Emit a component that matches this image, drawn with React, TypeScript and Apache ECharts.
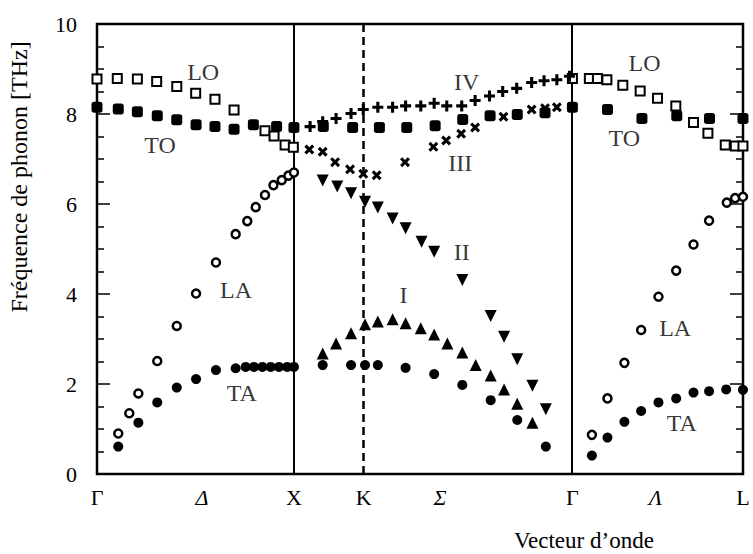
import React, { useEffect, useRef } from "react";
import * as echarts from "echarts";

// Wave-vector positions of high-symmetry points (Γ X K Γ L) and axis labels
const tickPositions = [0, 0.533, 1, 1.3536, 1.742, 2.4142, 2.835, 3.2802];
const tickLabels = ["Γ", "Δ", "X", "K", "Σ", "Γ", "Λ", "L"];
const italicLabels = ["Δ", "Σ", "Λ"];
const solidLines = [1, 2.4142];
const dashedLines = [1.3536];
const xMax = 3.2802;
const yTicks = ["0", "2", "4", "6", "8", "10"];

// Branch data: [wave vector, frequency THz]
const LO: number[][] = [
  [0.0, 8.78], [0.103, 8.79], [0.205, 8.78], [0.303, 8.72], [0.405, 8.61], [0.501, 8.46],
  [0.599, 8.33], [0.696, 8.09], [0.853, 7.63], [0.899, 7.51], [0.955, 7.31], [0.997, 7.26],
  [2.414, 8.79], [2.5, 8.79], [2.541, 8.79], [2.589, 8.76], [2.67, 8.64], [2.758, 8.51],
  [2.846, 8.35], [2.939, 8.18], [3.029, 7.81], [3.102, 7.57], [3.19, 7.31], [3.241, 7.29], [3.28, 7.29],
];
const TO: number[][] = [
  [0.0, 8.15], [0.108, 8.11], [0.205, 8.05], [0.306, 7.96], [0.405, 7.87], [0.503, 7.76],
  [0.599, 7.72], [0.696, 7.66], [0.794, 7.76], [0.912, 7.72], [1.0, 7.7], [1.149, 7.72],
  [1.298, 7.7], [1.434, 7.7], [1.573, 7.7], [1.717, 7.74], [1.857, 7.88], [1.996, 7.96],
  [2.134, 7.99], [2.275, 8.03], [2.414, 8.15], [2.592, 8.1], [2.767, 7.9], [2.944, 7.96],
  [3.11, 7.9], [3.28, 7.9],
];
const LA: number[][] = [
  [0.108, 0.9], [0.164, 1.35], [0.21, 1.79], [0.306, 2.51], [0.405, 3.29], [0.503, 4.01],
  [0.604, 4.7], [0.704, 5.33], [0.763, 5.62], [0.806, 5.93], [0.853, 6.2], [0.896, 6.42],
  [0.938, 6.53], [0.972, 6.63], [1.0, 6.7],
  [2.513, 0.87], [2.592, 1.68], [2.678, 2.47], [2.763, 3.2], [2.851, 3.94], [2.941, 4.52],
  [3.029, 5.1], [3.108, 5.63], [3.198, 6.03], [3.24, 6.13], [3.28, 6.16],
];
const TA: number[][] = [
  [0.108, 0.61], [0.21, 1.14], [0.306, 1.59], [0.405, 1.92], [0.503, 2.11], [0.604, 2.31],
  [0.704, 2.35], [0.755, 2.38], [0.797, 2.38], [0.84, 2.38], [0.882, 2.38], [0.924, 2.38],
  [0.966, 2.38], [1.0, 2.38], [1.146, 2.42], [1.29, 2.42], [1.361, 2.42], [1.426, 2.42],
  [1.567, 2.36], [1.712, 2.22], [1.855, 1.98], [1.999, 1.64], [2.134, 1.2], [2.279, 0.61],
  [2.513, 0.41], [2.592, 0.81], [2.678, 1.16], [2.763, 1.4], [2.851, 1.59], [2.941, 1.68],
  [3.029, 1.81], [3.108, 1.84], [3.195, 1.88], [3.28, 1.87],
];
const branchI: number[][] = [
  [1.146, 2.68], [1.214, 2.9], [1.29, 3.13], [1.361, 3.33], [1.426, 3.39], [1.501, 3.44],
  [1.567, 3.35], [1.644, 3.24], [1.712, 3.1], [1.779, 2.9], [1.855, 2.7], [1.923, 2.42],
  [1.999, 2.19], [2.067, 1.88], [2.134, 1.56], [2.211, 1.14],
];
const branchII: number[][] = [
  [1.146, 6.52], [1.22, 6.39], [1.29, 6.24], [1.361, 6.05], [1.426, 5.92], [1.501, 5.68],
  [1.567, 5.46], [1.648, 5.16], [1.712, 4.94], [1.855, 4.31], [1.999, 3.51], [2.067, 3.05],
  [2.134, 2.55], [2.211, 1.96], [2.279, 1.44],
];
const branchIII: number[][] = [
  [1.078, 7.21], [1.146, 7.16], [1.209, 6.93], [1.285, 6.77], [1.352, 6.67], [1.42, 6.64],
  [1.564, 6.93], [1.708, 7.27], [1.773, 7.41], [1.849, 7.56], [1.92, 7.7], [2.064, 7.94],
  [2.207, 8.1], [2.275, 8.13], [2.335, 8.15],
];
const branchIV: number[][] = [
  [1.082, 7.72], [1.146, 7.83], [1.214, 7.9], [1.29, 8.01], [1.352, 8.1], [1.426, 8.15],
  [1.501, 8.15], [1.567, 8.18], [1.644, 8.18], [1.712, 8.24], [1.776, 8.18], [1.852, 8.18],
  [1.92, 8.3], [1.993, 8.4], [2.06, 8.5], [2.131, 8.57], [2.207, 8.7], [2.27, 8.74],
  [2.335, 8.76], [2.399, 8.84],
];

// Branch annotations
const annotationNames = ["LO", "TO", "LA", "TA", "IV", "III", "II", "I", "LO", "TO", "LA", "TA"];
const annotationPos: number[][] = [
  [0.539, 8.94], [0.32, 7.31], [0.706, 4.1], [0.735, 1.79], [1.877, 8.72], [1.844, 6.92],
  [1.852, 4.94], [1.556, 3.98], [2.78, 9.13], [2.678, 7.46], [2.936, 3.24], [2.969, 1.13],
];

const FONT = "'Liberation Serif', 'DejaVu Serif', serif";
const PLUS = "path://M3.6,0H6.4V3.6H10V6.4H6.4V10H3.6V6.4H0V3.6H3.6Z";

export default function App() {
  const ref = useRef<HTMLDivElement>(null);
  useEffect(() => {
    document.body.style.margin = "0";
    if (!ref.current) return;
    const chart = echarts.init(ref.current, null, { renderer: "svg" });
    const yAxisCommon = {
      type: "value",
      min: 0,
      max: 10,
      interval: 2,
      splitLine: { show: false },
      axisLine: { show: false },
      axisTick: { show: true, inside: true, length: 13, lineStyle: { color: "#000", width: 1.5 } },
      minorTick: { show: true, splitNumber: 4, length: 7, lineStyle: { color: "#000", width: 1.5 } },
    };
    const base = { type: "scatter", xAxisIndex: 0, yAxisIndex: 0, z: 5 };
    const fill = { color: "#000", opacity: 1 };
    const hollow = (w: number) => ({ color: "#fff", borderColor: "#000", borderWidth: w, opacity: 1 });
    chart.setOption({
      animation: false,
      backgroundColor: "#fff",
      grid: { left: 97, right: 10, top: 24, bottom: 80, show: true, borderColor: "#000", borderWidth: 2.5, backgroundColor: "transparent" },
      xAxis: {
        type: "value",
        min: 0,
        max: xMax,
        splitLine: { show: false },
        axisLine: { show: false },
        axisTick: { show: false },
        axisLabel: {
          customValues: tickPositions,
          margin: 12,
          color: "#000",
          fontFamily: FONT,
          fontSize: 22,
          formatter: (v: number) => {
            let idx = 0;
            let best = Infinity;
            tickPositions.forEach((p, i) => {
              if (Math.abs(p - v) < best) { best = Math.abs(p - v); idx = i; }
            });
            const t = tickLabels[idx];
            return italicLabels.includes(t) ? `{it|${t}}` : t;
          },
          rich: { it: { fontStyle: "italic", fontFamily: FONT, fontSize: 22, color: "#000" } },
        },
      },
      yAxis: [
        {
          ...yAxisCommon,
          position: "left",
          axisLabel: { color: "#000", fontFamily: FONT, fontSize: 22, margin: 20, formatter: (v: number) => yTicks[Math.round(v / 2)] ?? String(v) },
        },
        { ...yAxisCommon, position: "right", axisLabel: { show: false } },
      ],
      graphic: [
        {
          type: "text",
          x: 19,
          y: 177,
          rotation: Math.PI / 2,
          style: { text: "Fréquence de phonon [THz]", fill: "#000", font: `24px ${FONT}`, textAlign: "center", textVerticalAlign: "middle" },
        },
        {
          type: "text",
          x: 514,
          y: 540,
          style: { text: "Vecteur d’onde", fill: "#000", font: `23px ${FONT}`, textAlign: "left", textVerticalAlign: "middle" },
        },
      ],
      series: [
        {
          ...base,
          name: "lines",
          data: [],
          markLine: {
            silent: true,
            symbol: ["none", "none"],
            label: { show: false },
            lineStyle: { color: "#000", width: 2, type: "solid", opacity: 1 },
            data: [
              ...solidLines.map((x) => ({ xAxis: x })),
              ...dashedLines.map((x) => ({ xAxis: x, lineStyle: { type: [8, 5], width: 2.5, color: "#000" } })),
            ],
          },
        },
        { ...base, name: "LO", data: LO, symbol: "rect", symbolSize: 9, itemStyle: hollow(2) },
        { ...base, name: "TO", data: TO, symbol: "roundRect", symbolSize: 11, itemStyle: fill },
        { ...base, name: "LA", data: LA, symbol: "circle", symbolSize: 8, itemStyle: hollow(2.5) },
        { ...base, name: "TA", data: TA, symbol: "circle", symbolSize: 10, itemStyle: fill },
        { ...base, name: "I", data: branchI, symbol: "triangle", symbolSize: 12, itemStyle: fill },
        { ...base, name: "II", data: branchII, symbol: "triangle", symbolRotate: 180, symbolSize: 12, itemStyle: fill },
        { ...base, name: "III", data: branchIII, symbol: PLUS, symbolRotate: 45, symbolSize: 11, itemStyle: fill },
        { ...base, name: "IV", data: branchIV, symbol: PLUS, symbolSize: 11, itemStyle: fill },
        {
          ...base,
          name: "annotations",
          z: 6,
          symbolSize: 1,
          itemStyle: { color: "transparent" },
          data: annotationPos.map((p, i) => ({ value: p, name: annotationNames[i] })),
          label: {
            show: true,
            position: "inside",
            formatter: (p: any) => p.name,
            color: "#000",
            fontFamily: FONT,
            fontSize: 24,
          },
        },
      ],
    });
    return () => chart.dispose();
  }, []);
  return <div ref={ref} style={{ width: 753, height: 554 }} />;
}
